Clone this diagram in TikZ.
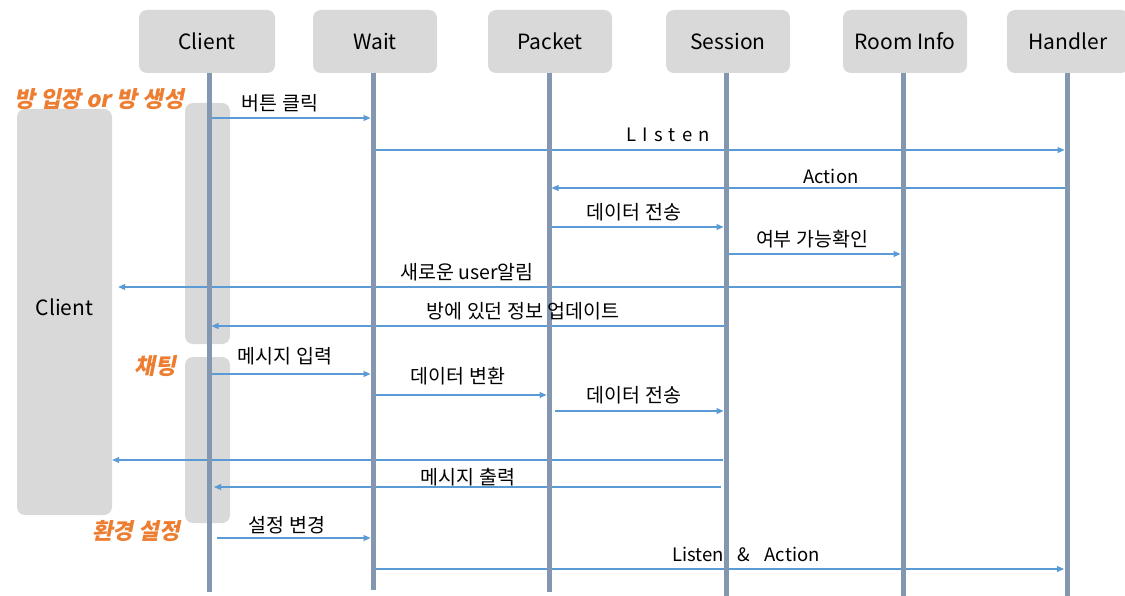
\documentclass[tikz,border=0pt]{standalone}
\usepackage{fontspec}
\setmainfont{Noto Sans CJK KR}
\newfontfamily\orn[FakeSlant=0.2,BoldFeatures={FakeSlant=0.2}]{Noto Sans CJK KR}
\usetikzlibrary{arrows.meta,calc}
\definecolor{boxgray}{HTML}{D9D9D9}
\definecolor{life}{HTML}{8497B0}
\definecolor{arr}{HTML}{5B9BD5}
\definecolor{org}{HTML}{ED7D31}
\begin{document}
\begin{tikzpicture}[x=1pt,y=-1pt,
  head/.style={fill=boxgray, rounded corners=8pt, minimum width=124pt, minimum height=63pt, font=\fontsize{21}{24}\selectfont, inner sep=0pt},
  lifeline/.style={life, line width=5pt},
  msg/.style={arr, line width=1.1pt, -{Triangle[length=7pt,width=6pt]}},
  lbl/.style={font=\fontsize{19.5}{22}\selectfont, inner sep=0pt},
  elbl/.style={font=\fontsize{18.5}{22}\selectfont, inner sep=0pt},
  phase/.style={org, font=\orn\bfseries\fontsize{22.5}{25}\selectfont, inner sep=0pt},
  act/.style={fill=boxgray, rounded corners=8pt}
]
\useasboundingbox (0,0) rectangle (1125,596);
\fill[white] (0,0) rectangle (1125,596);

% header boxes
\node[head, minimum width=136pt] (client) at (207,41.5) {Client};
\node[head] (wait) at (375,41.5) {Wait};
\node[head] (packet) at (550,41.5) {Packet};
\node[head] (session) at (728,41.5) {Session};
\node[head] (room) at (905,41.5) {Room Info};
\begin{scope}
  \clip (0,0) rectangle (1125,596);
  \node[head, minimum width=122pt] (handler) at (1068,41.5) {Handler};
\end{scope}

% lifeline anchors
\coordinate (Lc) at (209,73);
\coordinate (Lw) at (373,73);
\coordinate (Lp) at (549,73);
\coordinate (Ls) at (726,73);
\coordinate (Lr) at (903,73);
\coordinate (Lh) at (1067,73);
\coordinate (Ec) at (209,592);
\coordinate (Ew) at (373,590);
\coordinate (Ep) at (549,592);
\coordinate (Es) at (726,596);
\coordinate (Er) at (903,596);
\coordinate (Eh) at (1067,596);

% big client box and activation boxes
\node[act, minimum width=95pt, minimum height=406pt, inner sep=0pt] (big) at (64.5,312) {};
\node[font=\fontsize{21}{24}\selectfont, inner sep=0pt] (bigt) at (64.5,307) {Client};
\path[act] (185,103) rectangle (230,344);
\path[act] (185,357) rectangle (230,523);

% messages
\draw[msg] ($(Lc |- 0,118)+(2,0)$) -- ($(Lw |- 0,118)+(-2.5,0)$);
\draw[msg] ($(Lw |- 0,150)+(2.5,0)$) -- ($(Lh |- 0,150)+(-2.5,0)$);
\draw[msg] ($(Lh |- 0,188)+(-2.5,0)$) -- ($(Lp |- 0,188)+(2.5,0)$);
\draw[msg] ($(Lp |- 0,227)+(2.5,0)$) -- ($(Ls |- 0,227)+(-2.5,0)$);
\draw[msg] ($(Ls |- 0,254)+(2.5,0)$) -- ($(Lr |- 0,254)+(-2.5,0)$);
\draw[msg] ($(Lr |- 0,287)+(-2.5,0)$) -- ($(big.east |- 0,287)+(6,0)$);
\draw[msg] ($(Ls |- 0,326)+(0,0)$) -- ($(Lc |- 0,326)+(2.5,0)$);
\draw[msg] ($(Lc |- 0,374)+(3,0)$) -- ($(Lw |- 0,374)+(-2.5,0)$);
\draw[msg] ($(Lw |- 0,395)+(3,0)$) -- ($(Lp |- 0,395)+(-2.5,0)$);
\draw[msg] ($(Lp |- 0,411)+(6,0)$) -- ($(Ls |- 0,411)+(-2.5,0)$);
\draw[msg] ($(Ls |- 0,460)+(-3,0)$) -- ($(big.east |- 0,460)+(0,0)$);
\draw[msg] ($(Ls |- 0,487)+(-5,0)$) -- ($(Lc |- 0,487)+(5,0)$);
\draw[msg] ($(Lc |- 0,538)+(8,0)$) -- ($(Lw |- 0,538)+(-2.5,0)$);
\draw[msg] ($(Lw |- 0,569)+(2,0)$) -- ($(Lh |- 0,569)+(-3,0)$);

% lifelines
\draw[lifeline] (Lc) -- (Ec);
\draw[lifeline] (Lw) -- (Ew);
\draw[lifeline] (Lp) -- (Ep);
\draw[lifeline] (Ls) -- (Es);
\draw[lifeline] (Lr) -- (Er);
\draw[lifeline] (Lh) -- (Eh);

% message labels
\node[lbl] (t1) at (280,103) {버튼 클릭};
\node[elbl] (t2) at (668,135) {L\,\,I\,\,s\,\,t\,\,e\,\,n};
\node[elbl] (t3) at (831,176) {Action};
\node[lbl] (t4) at (634,212) {데이터 전송};
\node[lbl] (t5) at (812,239) {여부 가능확인};
\node[lbl] (t6) at (467,272) {새로운 user알림};
\node[lbl] (t7) at (523,311) {방에 있던 정보 업데이트};
\node[lbl] (t8) at (285,356) {메시지 입력};
\node[lbl] (t9) at (458,376) {데이터 변환};
\node[lbl] (t10) at (634,395) {데이터 전송};
\node[lbl] (t12) at (468,477) {메시지 출력};
\node[lbl] (t13) at (287,525) {설정 변경};
\node[elbl] (t14) at (746,554) {Listen\hspace{14pt}\&\hspace{14pt}Action};

% phase labels
\node[phase] (p1) at (99,99) {방 입장 or 방 생성};
\node[phase] (p2) at (155,366) {채팅};
\node[phase] (p3) at (136,531) {환경 설정};
\end{tikzpicture}
\end{document}
